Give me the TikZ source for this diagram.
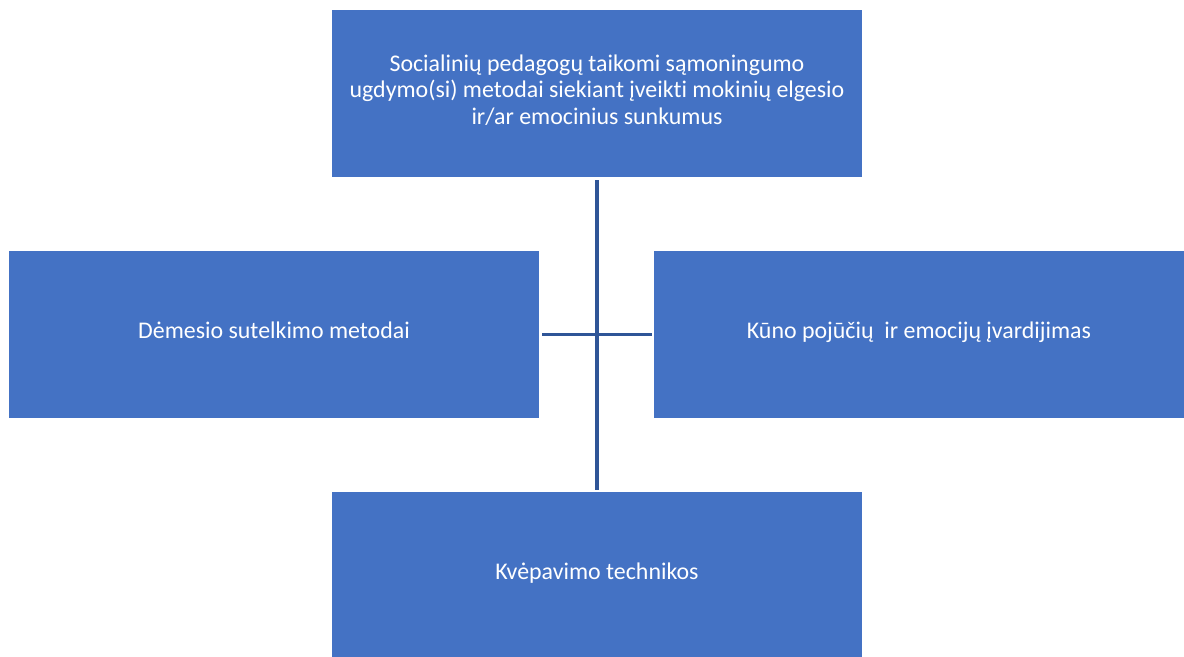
\documentclass[tikz,border=0pt]{standalone}
\usepackage{fontspec}
\setmainfont{Carlito}[Ligatures=NoCommon]
\usetikzlibrary{positioning,calc}
\definecolor{boxblue}{HTML}{4472C4}
\definecolor{lineblue}{HTML}{2F5597}
\tikzset{
    method/.style={
        rectangle,
        fill=boxblue,
        text=white,
        align=center,
        minimum width=13.25cm,
        minimum height=4.175cm,
        inner sep=0pt,
        font=\fontsize{17}{18.8}\selectfont,
    },
    link/.style={
        draw=lineblue,
        line width=2.2pt,
    },
}

\begin{document}
\begin{tikzpicture}[x=0.025cm,y=-0.025cm]
    \useasboundingbox (0,0) rectangle (1184,657);
    \node [method] (goal) at (597,93.5) {Socialinių pedagogų taikomi sąmoningumo\\ugdymo(si) metodai siekiant įveikti mokinių elgesio\\ir/ar emocinius sunkumus\\[-13pt]};
    \node [method] (focus) at (274,334.5) {Dėmesio sutelkimo metodai\\[-13pt]};
    \node [method] (body) at (919,334.5) {Kūno pojūčių\ \ ir emocijų įvardijimas\\[-13pt]};
    \node [method] (breath) at (597,575.5) {Kvėpavimo technikos\\[-13pt]};

    \draw [link, shorten <=2pt, shorten >=1.5pt] (goal) -- (breath);
    \draw [link, shorten <=2pt, shorten >=1.5pt] (focus) -- (body);
\end{tikzpicture}
\end{document}
